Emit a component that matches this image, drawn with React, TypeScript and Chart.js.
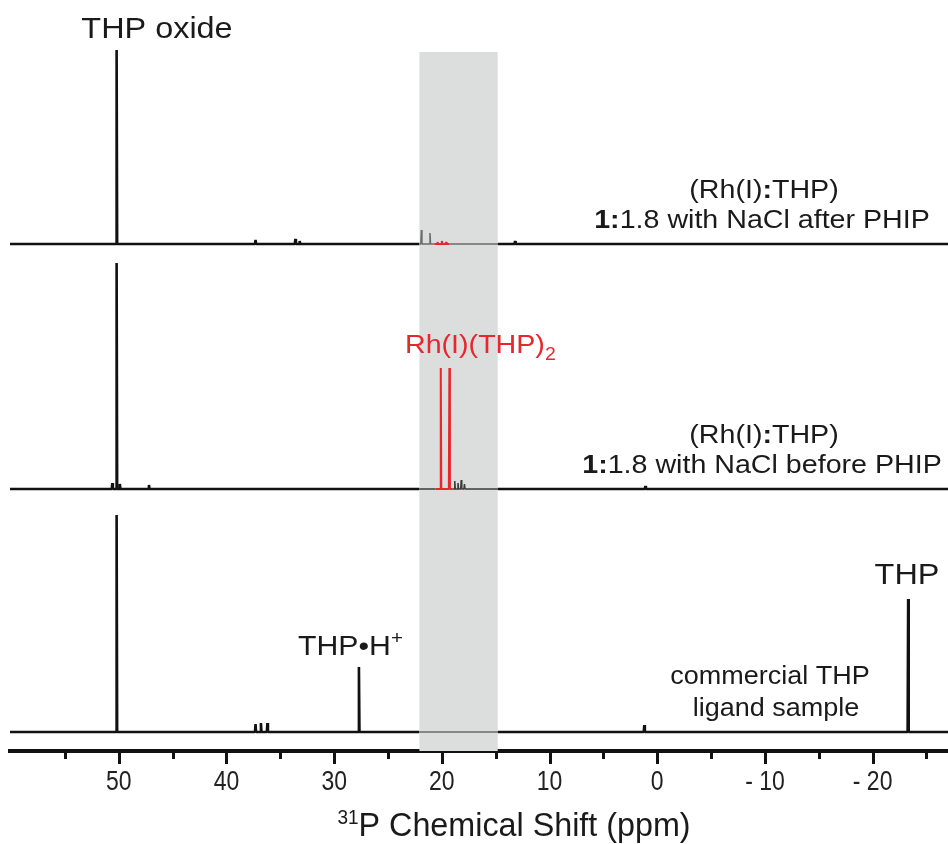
import React, { useEffect, useRef } from "react";
import { Chart, registerables } from "chart.js";

Chart.register(...registerables);

// ---------- axis ----------
const X_LEFT = 60.1; // ppm at left edge
const X_RIGHT = -27; // ppm at right edge
const majorTicks = [50, 40, 30, 20, 10, 0, -10, -20];
const minorTicks = [55, 45, 35, 25, 15, 5, -5, -15, -25];
const tickLabels = ["50", "40", "30", "20", "10", "0", "- 10", "- 20"];

// ---------- highlighted band (ppm) ----------
const bandRange = [22.1, 14.8];
const bandTop = 699;

// ---------- spectra (arbitrary intensity units, stacked) ----------
const baselines = [507, 262, 19];

const afterPhipPpm = [50.2, 37.3, 33.6, 33.2, 21.9, 21.1, 20.4, 20.0, 19.6, 13.2];
const afterPhipInt = [194, 4, 5, 3, 14, 11, 2, 3, 2, 3];

const beforePhipPpm = [50.6, 50.2, 49.9, 47.2, 20.1, 19.3, 18.8, 18.5, 18.2, 17.9, 1.1];
const beforePhipInt = [6, 226, 5, 4, 121, 121, 8, 6, 9, 5, 3];

const commercialPpm = [50.2, 37.3, 36.8, 36.2, 27.7, 1.2, -23.3];
const commercialInt = [217, 8, 9, 9, 65, 7, 133];

const redRanges: (number[] | null)[] = [[20.7, 19.3], [20.6, 19.0], null];

const FONT = "'Liberation Sans', Arial, Helvetica, sans-serif";

function buildSpectrum(ppm: number[], ints: number[], base: number, red: number[] | null) {
  const w = 0.05;
  const pts: { x: number; y: number }[] = [];
  pts.push({ x: X_LEFT, y: base });
  pts.push({ x: X_RIGHT, y: base });
  pts.push({ x: bandRange[0], y: base });
  pts.push({ x: bandRange[1], y: base });
  if (red) {
    pts.push({ x: red[0], y: base });
    pts.push({ x: red[1], y: base });
  }
  ppm.forEach((p, i) => {
    pts.push({ x: p + w, y: base });
    pts.push({ x: p, y: base + ints[i] });
    pts.push({ x: p - w, y: base });
  });
  pts.sort((a, b) => b.x - a.x);
  return pts;
}

type Part = { t: string; size: number; dy?: number; bold?: boolean };

function drawRich(
  ctx: CanvasRenderingContext2D,
  parts: Part[],
  x: number,
  y: number,
  align: "left" | "center" | "right",
  color: string,
  stretch = 1.08
) {
  ctx.save();
  ctx.fillStyle = color;
  ctx.textBaseline = "alphabetic";
  ctx.textAlign = "left";
  let total = 0;
  const widths = parts.map((p) => {
    ctx.font = `${p.bold ? "bold " : ""}${p.size}px ${FONT}`;
    const m = ctx.measureText(p.t).width;
    total += m;
    return m;
  });
  let start = x;
  if (align === "center") start = x - (total * stretch) / 2;
  if (align === "right") start = x - total * stretch;
  ctx.translate(start, y);
  ctx.scale(stretch, 1);
  let cx = 0;
  parts.forEach((p, i) => {
    ctx.font = `${p.bold ? "bold " : ""}${p.size}px ${FONT}`;
    ctx.fillText(p.t, cx, p.dy || 0);
    cx += widths[i];
  });
  ctx.restore();
}

const annotations = {
  id: "annotations",
  afterDraw(chart: any) {
    const ctx: CanvasRenderingContext2D = chart.ctx;
    const xs = chart.scales.x;
    const bottom = chart.chartArea.bottom;
    const black = "#1a1a1a";
    const red = "#e8262d";
    // ticks and tick labels, positioned by the x scale
    ctx.save();
    ctx.strokeStyle = "#111";
    ctx.lineWidth = 3;
    majorTicks.forEach((v) => {
      const px = Math.round(xs.getPixelForValue(v)) + 0.5;
      ctx.beginPath();
      ctx.moveTo(px, bottom);
      ctx.lineTo(px, bottom + 13);
      ctx.stroke();
    });
    minorTicks.forEach((v) => {
      const px = Math.round(xs.getPixelForValue(v)) + 0.5;
      ctx.beginPath();
      ctx.moveTo(px, bottom);
      ctx.lineTo(px, bottom + 8);
      ctx.stroke();
    });
    ctx.restore();
    majorTicks.forEach((v, i) => {
      drawRich(ctx, [{ t: tickLabels[i], size: 28 }], xs.getPixelForValue(v), bottom + 39, "center", "#222", 0.82);
    });

    drawRich(ctx, [{ t: "THP oxide", size: 30 }], 157, 38, "center", black);

    drawRich(ctx, [{ t: "(Rh(I)", size: 26.5 }, { t: ":", size: 26.5, bold: true }, { t: "THP)", size: 26.5 }], 764, 198, "center", black);
    drawRich(ctx, [{ t: "1:", size: 26.5, bold: true }, { t: "1.8 with NaCl after PHIP", size: 26.5 }], 762, 228, "center", black);

    drawRich(ctx, [{ t: "(Rh(I)", size: 26.5 }, { t: ":", size: 26.5, bold: true }, { t: "THP)", size: 26.5 }], 764, 443, "center", black);
    drawRich(ctx, [{ t: "1:", size: 26.5, bold: true }, { t: "1.8 with NaCl before PHIP", size: 26.5 }], 762, 473, "center", black);

    drawRich(ctx, [{ t: "Rh(I)(THP)", size: 26.5 }, { t: "2", size: 18, dy: 7 }], 405, 353, "left", red);

    drawRich(ctx, [{ t: "THP•H", size: 28 }, { t: "+", size: 19, dy: -11 }], 298, 655, "left", black);
    drawRich(ctx, [{ t: "THP", size: 30 }], 907, 584, "center", black);
    drawRich(ctx, [{ t: "commercial THP", size: 25 }], 770, 684, "center", black);
    drawRich(ctx, [{ t: "ligand sample", size: 25 }], 776, 716, "center", black);

    drawRich(ctx, [{ t: "31", size: 20, dy: -12 }, { t: "P Chemical Shift (ppm)", size: 34 }], 514, 836, "center", black, 0.95);
  },
};

export default function App() {
  const ref = useRef<HTMLCanvasElement>(null);
  useEffect(() => {
    if (!ref.current) return;
    const specs = [
      buildSpectrum(afterPhipPpm, afterPhipInt, baselines[0], redRanges[0]),
      buildSpectrum(beforePhipPpm, beforePhipInt, baselines[1], redRanges[1]),
      buildSpectrum(commercialPpm, commercialInt, baselines[2], redRanges[2]),
    ];
    const inR = (x: number, r: number[] | null) => !!r && x <= r[0] && x >= r[1];
    const styleFor = (si: number) => ({
      borderColor: (c: any) => {
        const m = (c.p0.parsed.x + c.p1.parsed.x) / 2;
        if (inR(m, redRanges[si])) return "#e8262d";
        if (inR(m, bandRange)) return si === 1 ? "#3a3a3a" : "#6a6a6a";
        return "#111";
      },
      borderWidth: (c: any) => {
        const m = (c.p0.parsed.x + c.p1.parsed.x) / 2;
        if (inR(m, redRanges[si])) return 2;
        if (inR(m, bandRange)) return 1.5;
        return 2.6;
      },
    });
    const chart = new Chart(ref.current, {
      type: "line",
      data: {
        datasets: [
          ...specs.map((d, si) => ({
            data: d,
            borderColor: "#111",
            borderWidth: 2.6,
            borderJoinStyle: "bevel" as const,
            pointRadius: 0,
            fill: false,
            order: si,
            segment: styleFor(si),
          })),
          {
            data: [
              { x: bandRange[0], y: bandTop },
              { x: bandRange[1], y: bandTop },
            ],
            borderWidth: 0,
            borderColor: "rgba(0,0,0,0)",
            backgroundColor: "#dcdedd",
            fill: "origin",
            pointRadius: 0,
            order: 10,
          },
        ],
      },
      options: {
        animation: false,
        responsive: false,
        maintainAspectRatio: false,
        devicePixelRatio: 1,
        layout: { padding: { left: 10, right: 0, top: 0, bottom: 0 } },
        plugins: { legend: { display: false }, tooltip: { enabled: false } },
        elements: { line: { tension: 0 } },
        scales: {
          x: {
            type: "linear",
            reverse: true,
            min: X_RIGHT,
            max: X_LEFT,
            afterBuildTicks: (s: any) => {
              s.ticks = majorTicks.map((v) => ({ value: v }));
            },
            afterFit: (s: any) => {
              s.height = 93;
            },
            grid: { display: false, drawTicks: false, drawOnChartArea: false },
            border: { display: true, width: 4, color: "#111" },
            ticks: { display: false },
          },
          y: { type: "linear", display: false, min: 0, max: 751 },
        },
      },
      plugins: [annotations],
    });
    return () => chart.destroy();
  }, []);
  return (
    <div style={{ position: "absolute", left: 0, top: 0, width: 948, height: 844, background: "#fff" }}>
      <canvas ref={ref} width={948} height={844} style={{ display: "block" }} />
    </div>
  );
}
